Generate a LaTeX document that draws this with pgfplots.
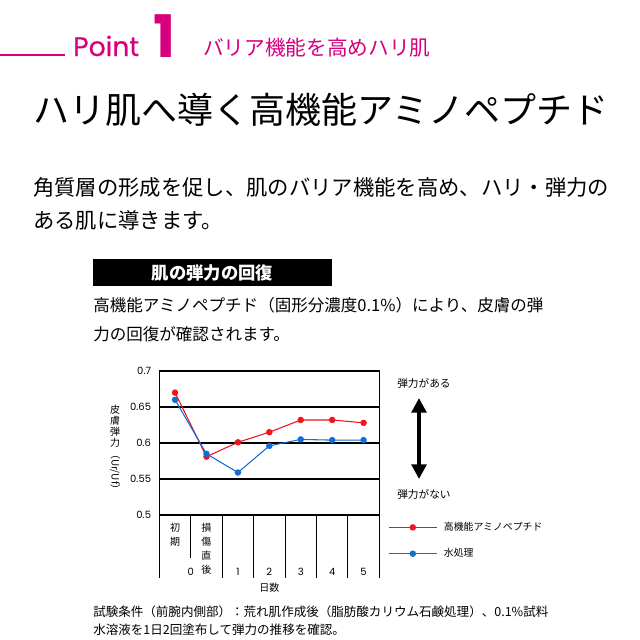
\documentclass[border=0pt]{standalone}
\usepackage{fontspec}
\usepackage{pgfplots}
\pgfplotsset{compat=1.18}
\usetikzlibrary{arrows.meta}
\setmainfont{Noto Sans CJK JP}
\newfontfamily\pop{Poppins}
\newfontfamily\popm[FakeBold=0.6]{Poppins}
\definecolor{pinkc}{RGB}{214,0,127}
\definecolor{redc}{RGB}{240,20,30}
\definecolor{bluec}{RGB}{20,110,210}
\begin{document}
\begin{tikzpicture}
\path[fill=white,use as bounding box] (0,0) rectangle (480pt,-480pt);
\begin{scope}[x=0.75pt,y=-0.75pt]
\draw[pinkc,line width=1pt] (0,55)--(65,55);
\node[anchor=base west,inner sep=0,text=pinkc,font=\popm\fontsize{20}{22}\selectfont] at (73,56) {Point};
\node[anchor=base west,inner sep=0,text=pinkc,font=\pop\bfseries\fontsize{44}{46}\selectfont] at (153,57) {1};
\node[anchor=west,inner sep=0,text=pinkc,font=\fontsize{15.5}{17}\selectfont] at (203,48) {バリア機能を高めハリ肌};
\node[anchor=west,inner sep=0,font=\fontsize{27}{30}\selectfont] at (33,110) {ハリ肌へ導く高機能アミノペプチド};
\node[anchor=west,inner sep=0,font=\fontsize{16}{18}\selectfont] at (33,187) {角質層の形成を促し、肌のバリア機能を高め、ハリ・弾力の};
\node[anchor=west,inner sep=0,font=\fontsize{16}{18}\selectfont] at (33,220) {ある肌に導きます。};
\fill[black] (93,259) rectangle (332,286);
\node[text=white,inner sep=0,font=\bfseries\fontsize{13}{15}\selectfont] at (212.5,272.5) {肌の弾力の回復};
\node[anchor=west,inner sep=0,font=\fontsize{12.4}{14}\selectfont] at (93,305) {高機能アミノペプチド（固形分濃度0.1\%）により、皮膚の弾};
\node[anchor=west,inner sep=0,font=\fontsize{12.4}{14}\selectfont] at (93,334) {力の回復が確認されます。};
\node[anchor=west,inner sep=0,font=\fontsize{9.4}{11}\selectfont] at (93,612) {試験条件（前腕内側部）：荒れ肌作成後（脂肪酸カリウム石鹸処理）、0.1\%試料};
\node[anchor=west,inner sep=0,font=\fontsize{9.4}{11}\selectfont] at (93,630) {水溶液を1日2回塗布して弾力の推移を確認。};
% y label
\node[anchor=north,inner sep=0,align=center,font=\fontsize{7.5}{8.2}\selectfont] at (115,405) {皮\\膚\\弾\\力};
\node[anchor=west,rotate=-90,inner sep=0,font=\fontsize{7.5}{8}\selectfont] at (115,449) {（Ur/Uf）};
% right side
\node[anchor=west,inner sep=0,font=\fontsize{8}{9}\selectfont] at (397,383) {弾力がある};
\node[anchor=west,inner sep=0,font=\fontsize{8}{9}\selectfont] at (397,494) {弾力がない};
\draw[line width=3pt,{Triangle[width=11pt,length=11pt]}-{Triangle[width=11pt,length=11pt]}] (419,398)--(419,479);
\end{scope}
\begin{axis}[
 at={(119.5pt,-386.25pt)}, anchor=south west,
 scale only axis, width=165pt, height=108pt,
 xmin=-0.5, xmax=6.5, ymin=0.5, ymax=0.7,
 xtick=\empty,
 ytick={0.5,0.55,0.6,0.65,0.7},
 /pgf/number format/assume math mode=true,
 major tick length=0pt,
 ymajorgrids, grid style={black, line width=1pt},
 axis line style={black, line width=0.8pt},
 yticklabel style={font=\pop\fontsize{7.5}{8}\selectfont, inner sep=0pt, xshift=-6pt},
 clip=false,
 legend style={at={(1.04,-0.03)}, anchor=north west, draw=none, fill=none, font=\fontsize{7.4}{8}\selectfont, row sep=8pt, inner sep=0pt, /tikz/every odd column/.append style={column sep=3pt}},
 legend cell align=left,
 legend image code/.code={\draw[mark repeat=2,mark phase=2,#1] plot coordinates {(0cm,0cm) (0.63cm,0cm) (1.26cm,0cm)};},
]
\addplot[redc, line width=0.8pt, mark=*, mark size=2pt, mark options={fill=redc,draw=redc}] coordinates {(0,0.670)(1,0.581)(2,0.601)(3,0.615)(4,0.632)(5,0.632)(6,0.628)};
\addlegendentry{高機能アミノペプチド}
\addplot[bluec, line width=0.8pt, mark=*, mark size=2pt, mark options={fill=bluec,draw=bluec}] coordinates {(0,0.660)(1,0.585)(2,0.559)(3,0.596)(4,0.605)(5,0.604)(6,0.604)};
\addlegendentry{水処理}
\pgfplotsinvokeforeach{-0.5,1.5,2.5,3.5,4.5,5.5,6.5}{\draw[line width=0.8pt] (axis cs:#1,0.5)--(axis cs:#1,0.4125);}
\draw[line width=0.8pt] (axis cs:0.5,0.5)--(axis cs:0.5,0.44);
\node[anchor=north,inner sep=0,align=center,font=\fontsize{7.5}{10.5}\selectfont] at (axis cs:0,0.489) {初\\期};
\node[anchor=north,inner sep=0,align=center,font=\fontsize{7.5}{10.5}\selectfont] at (axis cs:1,0.489) {損\\傷\\直\\後};
\node[inner sep=0,font=\pop\fontsize{7.5}{8}\selectfont] at (axis cs:0.5,0.421) {0};
\node[inner sep=0,font=\pop\fontsize{7.5}{8}\selectfont] at (axis cs:2,0.421) {1};
\node[inner sep=0,font=\pop\fontsize{7.5}{8}\selectfont] at (axis cs:3,0.421) {2};
\node[inner sep=0,font=\pop\fontsize{7.5}{8}\selectfont] at (axis cs:4,0.421) {3};
\node[inner sep=0,font=\pop\fontsize{7.5}{8}\selectfont] at (axis cs:5,0.421) {4};
\node[inner sep=0,font=\pop\fontsize{7.5}{8}\selectfont] at (axis cs:6,0.421) {5};
\node[inner sep=0,font=\fontsize{7.5}{8}\selectfont] at (axis cs:3,0.399) {日数};
\end{axis}
\end{tikzpicture}
\end{document}
